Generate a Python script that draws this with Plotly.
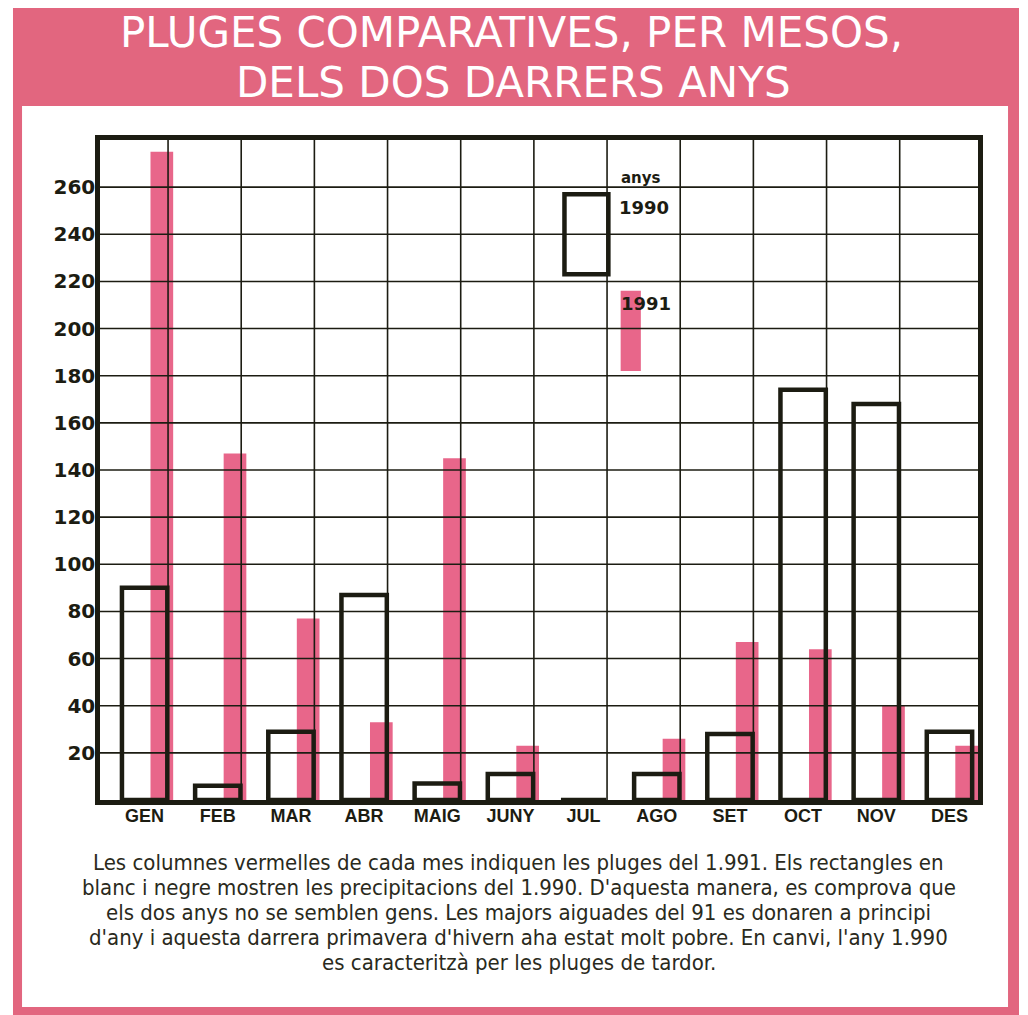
import plotly.graph_objects as go

months = ["GEN", "FEB", "MAR", "ABR", "MAIG", "JUNY", "JUL", "AGO", "SET", "OCT", "NOV", "DES"]
rain_1990 = [90, 6, 29, 87, 7, 11, 0, 11, 28, 174, 168, 29]
rain_1991 = [275, 147, 77, 33, 145, 23, 0, 26, 67, 64, 40, 23]
y_ticks = [20, 40, 60, 80, 100, 120, 140, 160, 180, 200, 220, 240, 260]

title_lines = ["PLUGES COMPARATIVES, PER MESOS,", "DELS DOS DARRERS ANYS"]
caption_lines = [
    "Les columnes vermelles de cada mes indiquen les pluges del 1.991. Els rectangles en",
    "blanc i negre mostren les precipitacions del 1.990. D'aquesta manera, es comprova que",
    "els dos anys no se semblen gens. Les majors aiguades del 91 es donaren a principi",
    "d'any i aquesta darrera primavera d'hivern aha estat molt pobre. En canvi, l'any 1.990",
    "es caracteritzà per les pluges de tardor.",
]

PINK_FRAME = "#E2667F"
PINK_BAR = "#E8668A"
INK = "#1c1c12"
COND = "DejaVu Sans Condensed, sans-serif"

fig = go.Figure()
fig.add_trace(go.Bar(x=months, y=rain_1991, name="1991", marker=dict(color=PINK_BAR, line=dict(width=0)),
                     offset=0.19, width=0.31))
fig.add_trace(go.Bar(x=months, y=rain_1990, name="1990",
                     marker=dict(color="rgba(0,0,0,0)", line=dict(color=INK, width=4.5)),
                     offset=-0.2, width=0.62))

shapes = []
# frame
shapes.append(dict(type="rect", xref="paper", yref="paper", x0=-0.0991, x1=1.0467, y0=-0.34, y1=1.2,
                   fillcolor=PINK_FRAME, line=dict(width=0), layer="below"))
shapes.append(dict(type="rect", xref="paper", yref="paper", x0=-0.0888, x1=1.0342, y0=-0.3136, y1=1.0515,
                   fillcolor="white", line=dict(width=0), layer="below"))
# grid lines above the bars
for v in y_ticks:
    shapes.append(dict(type="line", xref="paper", yref="y", x0=0, x1=1, y0=v, y1=v,
                       line=dict(color=INK, width=1.6), layer="above"))
for i in range(len(months) - 1):
    shapes.append(dict(type="line", xref="x", yref="paper", x0=i + 0.43, x1=i + 0.43, y0=0, y1=1,
                       line=dict(color=INK, width=1.6), layer="above"))
# legend swatches
shapes.append(dict(type="rect", xref="paper", yref="y", x0=0.593, x1=0.616, y0=182, y1=216,
                   fillcolor=PINK_BAR, line=dict(width=0), layer="below"))
shapes.append(dict(type="rect", xref="paper", yref="y", x0=0.529, x1=0.579, y0=223, y1=257,
                   fillcolor="rgba(0,0,0,0)", line=dict(color=INK, width=4.5), layer="above"))

annotations = [
    dict(text=title_lines[0], xref="paper", yref="paper", x=0.469, y=1.1636, showarrow=False,
         font=dict(family="DejaVu Sans", size=42, color="white", weight=400),
         xanchor="center", yanchor="middle"),
    dict(text=title_lines[1], xref="paper", yref="paper", x=0.471, y=1.0864, showarrow=False,
         font=dict(family="DejaVu Sans", size=42, color="white", weight=400),
         xanchor="center", yanchor="middle"),
    dict(text="<b>anys</b>", xref="paper", yref="paper", x=0.591, y=0.942, showarrow=False,
         font=dict(family="DejaVu Sans", size=15, color=INK), xanchor="left", yanchor="middle"),
    dict(text="<b>1990</b>", xref="paper", yref="paper", x=0.589, y=0.898, showarrow=False,
         font=dict(family="DejaVu Sans", size=18, color=INK), xanchor="left", yanchor="middle"),
    dict(text="<b>1991</b>", xref="paper", yref="paper", x=0.591, y=0.752, showarrow=False,
         font=dict(family="DejaVu Sans", size=18, color=INK), xanchor="left", yanchor="middle"),
]
for k, line in enumerate(caption_lines):
    annotations.append(dict(text=line, xref="paper", yref="paper", x=0.477, y=-0.094 - k * 0.0379,
                            showarrow=False, font=dict(family=COND, size=22, color="#2a2a1c"),
                            xanchor="center", yanchor="middle"))

fig.update_layout(
    width=1011, height=1007,
    margin=dict(l=92, r=41, t=132, b=215),
    paper_bgcolor="white", plot_bgcolor="white",
    showlegend=False, barmode="overlay",
    shapes=shapes, annotations=annotations,
    xaxis=dict(type="category", range=[-0.5, 11.5], showgrid=False, showline=True, mirror=True,
               linecolor=INK, linewidth=4.5, ticks="", ticklabelshift=8, ticklabelstandoff=-4,
               tickfont=dict(family="Liberation Sans", size=18, color=INK, weight="bold")),
    yaxis=dict(range=[0, 280], tickvals=y_ticks, showgrid=False, showline=True, mirror=True,
               linecolor=INK, linewidth=4.5, ticks="", ticklabelstandoff=-4, zeroline=False,
               tickfont=dict(family="DejaVu Sans", size=20, color=INK, weight="bold")),
)

fig.write_html("out.html")
